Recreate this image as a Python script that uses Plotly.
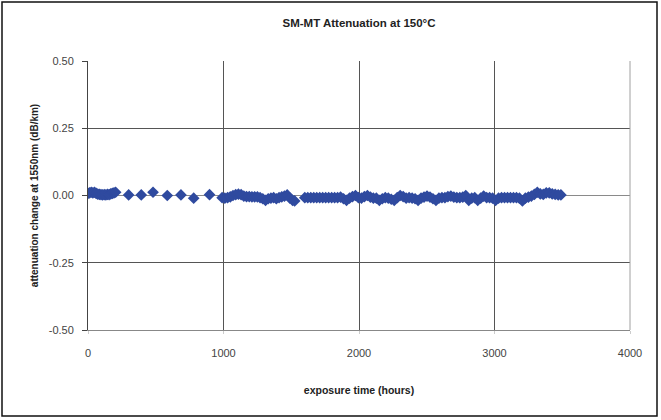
import plotly.graph_objects as go

# exposure time (hours)
hours_early = [0, 12, 24, 36, 48, 60, 72, 84, 96, 108, 120, 132, 144, 156, 168, 180, 192, 204]
atten_early = [0.008, 0.010, 0.012, 0.010, 0.012, 0.008, 0.005, 0.004, 0.003, 0.002, 0.003, 0.002,
               0.004, 0.003, 0.006, 0.008, 0.010, 0.012]

hours_sparse = [300, 393, 480, 585, 686, 780, 897]
atten_sparse = [0.002, 0.002, 0.012, 0.000, 0.002, -0.010, 0.003]

hours_mid = [990, 1010, 1030, 1050, 1070, 1090, 1110, 1130, 1150, 1170, 1190, 1210, 1230, 1250,
             1270, 1290, 1310, 1330, 1350, 1370, 1390, 1410, 1430, 1450, 1470, 1490, 1510, 1525]
atten_mid = [-0.008, -0.010, -0.008, -0.005, 0.000, 0.003, 0.005, 0.003, -0.002, -0.004, -0.004,
             -0.005, -0.005, -0.005, -0.008, -0.012, -0.018, -0.012, -0.010, -0.008, -0.012, -0.008,
             -0.005, -0.002, 0.002, -0.010, -0.018, -0.020]

hours_late = [1600, 1622, 1644, 1666, 1688, 1710, 1732, 1754, 1776, 1798, 1820, 1842, 1864, 1886,
              1908, 1930, 1952, 1974, 1996, 2018, 2040, 2062, 2084, 2106, 2128, 2150, 2172, 2194,
              2216, 2238, 2260, 2282, 2304, 2326, 2348, 2370, 2392, 2414, 2436, 2458, 2480, 2502,
              2524, 2546, 2568, 2590, 2612, 2634, 2656, 2678, 2700, 2722, 2744, 2766, 2788, 2810,
              2832, 2854, 2876, 2898, 2920, 2942, 2964, 2986, 3008, 3030, 3052, 3074, 3096, 3118,
              3140, 3162, 3184, 3206, 3228, 3250, 3272, 3294, 3316, 3338, 3360, 3382, 3404, 3426,
              3448, 3470, 3490]
atten_late = [-0.008, -0.008, -0.008, -0.008, -0.008, -0.008, -0.008, -0.008, -0.008, -0.008,
              -0.008, -0.008, -0.006, -0.012, -0.018, -0.010, -0.004, 0.000, -0.008, -0.010,
              -0.004, 0.000, -0.006, -0.010, -0.010, -0.018, -0.012, -0.008, -0.010, -0.014,
              -0.018, -0.008, 0.000, -0.004, -0.010, -0.008, -0.010, -0.012, -0.018, -0.010,
              -0.006, -0.002, -0.006, -0.012, -0.018, -0.010, -0.008, -0.008, -0.004, -0.002,
              -0.006, -0.008, -0.008, -0.006, 0.000, -0.018, -0.010, -0.008, -0.018, -0.010,
              -0.002, -0.008, -0.008, -0.010, -0.018, -0.010, -0.008, -0.008, -0.008, -0.008,
              -0.008, -0.008, -0.010, -0.020, -0.010, -0.006, -0.002, 0.004, 0.012, 0.006,
              0.004, 0.010, 0.010, 0.006, 0.004, 0.002, 0.002]

hours = hours_early + hours_sparse + hours_mid + hours_late
atten = atten_early + atten_sparse + atten_mid + atten_late

x_ticks = [0, 1000, 2000, 3000, 4000]
y_ticks = [-0.50, -0.25, 0.00, 0.25, 0.50]

FONT = "Liberation Sans, Arial, sans-serif"

fig = go.Figure()
fig.add_trace(go.Scatter(
    x=hours, y=atten, mode="markers",
    marker=dict(symbol="diamond", size=9, color="#2F4A9F", line=dict(width=0)),
    showlegend=False,
))

W, H = 661, 420
L, R, T, B = 88, 31, 61, 90
pw, ph = W - L - R, H - T - B

fig.update_layout(
    width=W, height=H,
    margin=dict(l=L, r=R, t=T, b=B),
    paper_bgcolor="white", plot_bgcolor="white",
    font=dict(family=FONT, color="#222"),
    title=dict(text="<b>SM-MT Attenuation at 150°C</b>", x=(L + pw / 2) / W, xanchor="center",
               y=1 - 23 / H, yanchor="middle", font=dict(size=11.5, color="#222")),
    xaxis=dict(range=[0, 4000], tickvals=x_ticks, ticktext=[str(v) for v in x_ticks],
               showgrid=True, gridcolor="#555", gridwidth=1, zeroline=False,
               showline=True, linecolor="#888", linewidth=1,
               ticks="outside", ticklen=3, tickcolor="#ccc", ticklabelstandoff=10,
               tickfont=dict(size=11, color="#444"),
               title=dict(text="<b>exposure time (hours)</b>", font=dict(size=10.5, color="#222"),
                          standoff=28)),
    yaxis=dict(range=[-0.5, 0.5], tickvals=y_ticks, ticktext=[f"{v:.2f}" for v in y_ticks],
               showgrid=True, gridcolor="#555", gridwidth=1,
               zeroline=True, zerolinecolor="#8a8a8a", zerolinewidth=1,
               showline=True, linecolor="#444", linewidth=1,
               ticks="outside", ticklen=5, tickcolor="#444", ticklabelstandoff=6,
               tickfont=dict(size=11, color="#444"),
               title=dict(text="<b>attenuation change at 1550nm (dB/km)</b>",
                          font=dict(size=10, color="#222"), standoff=8)),
)

# light right edge of the plot area (as in the reference)
fig.add_shape(type="line", xref="paper", yref="paper", x0=1, x1=1, y0=0, y1=1,
              line=dict(color="#a0a0a0", width=1), layer="above")

# outer chart border
fig.add_shape(type="rect", xref="paper", yref="paper",
              x0=(2 - L) / pw, x1=(657 - L) / pw,
              y0=(H - B - 416) / ph, y1=(H - B - 2) / ph,
              line=dict(color="#111", width=1.5), fillcolor="rgba(0,0,0,0)", layer="below")

fig.write_html("out.html", config={"displayModeBar": False},
               post_script="document.body.style.margin='0';document.body.style.overflow='hidden';")
